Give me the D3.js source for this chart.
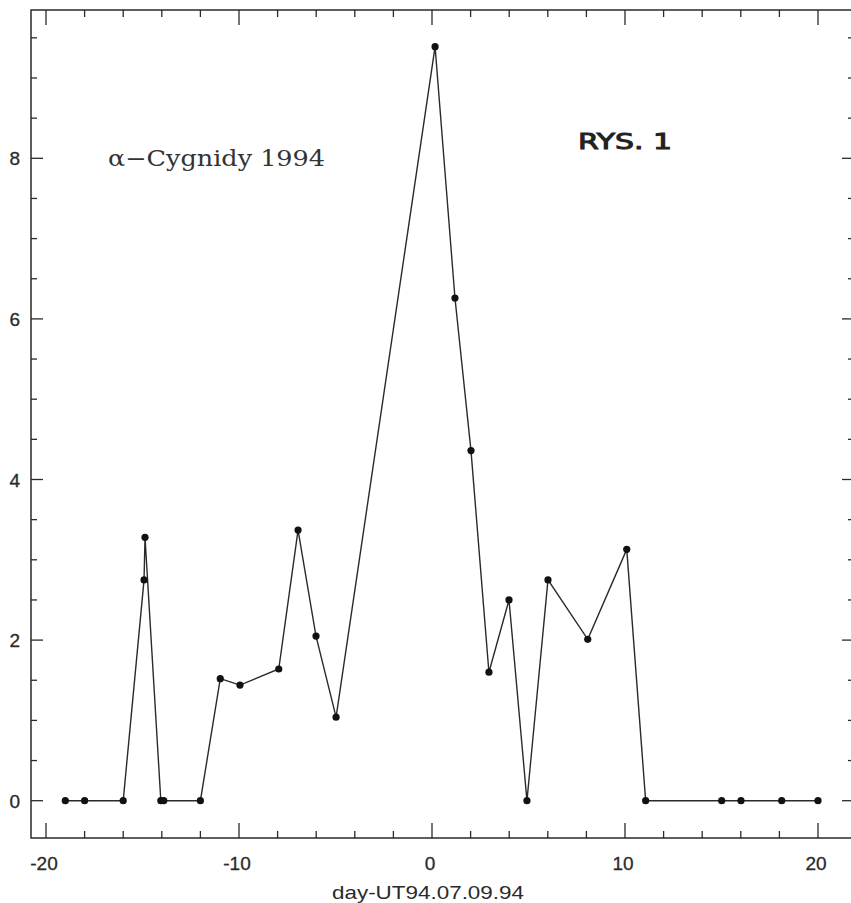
<!DOCTYPE html>
<html>
<head>
<meta charset="utf-8">
<script src="https://d3js.org/d3.v7.min.js"></script>
<style>
  body { margin: 0; background: #fff; }
</style>
</head>
<body>
<div id="chart"></div>
<script>

// alpha-Cygnids 1994 activity profile

const days = [-19, -18, -16, -14.92, -14.87, -14.05, -13.9, -12, -10.97, -9.95, -7.94, -6.94, -6.01, -4.97,
    0.16, 1.19, 2.02, 2.95, 3.99, 4.92, 6.01, 8.07, 10.09, 11.07, 15.01, 16.01, 18.12, 20];
const rates = [0, 0, 0, 2.75, 3.28, 0, 0, 0, 1.52, 1.44, 1.64, 3.37, 2.05, 1.04,
    9.39, 6.26, 4.36, 1.60, 2.50, 0, 2.75, 2.01, 3.13, 0, 0, 0, 0, 0];

const xMajor = [-20, -10, 0, 10, 20];
const yMajor = [0, 2, 4, 6, 8];

const title = "\u03b1\u2212Cygnidy 1994";
const note = "RYS. 1";
const xTitle = "day-UT94.07.09.94";

let width = 851;
let height = 903;

let x = d3.scaleLinear().domain([-20, 20]).range([46, 818]);
let y = d3.scaleLinear().domain([0, 8]).range([800.7, 158.3]);

const fLeft = 31, fRight = 854, fTop = 10, fBottom = 838;
const ink = "#2a2a2a";

let svg = d3.select("#chart")
    .append("svg")
    .attr("width", width)
    .attr("height", height)
    .style("font-family", "'Liberation Sans', Arial, sans-serif");

// frame
svg.append("rect")
    .attr("x", fLeft)
    .attr("y", fTop)
    .attr("width", fRight - fLeft)
    .attr("height", fBottom - fTop)
    .attr("fill", "none")
    .attr("stroke", ink)
    .attr("stroke-width", 1.5);

let xTicks = d3.range(-20, 21, 2);
let yTicks = d3.range(0, 9.6, 0.5);

let ticks = svg.append("g")
    .attr("stroke", ink)
    .attr("stroke-width", 1.3);

xTicks.forEach(t => {
    let len = xMajor.includes(t) ? 15 : 7;
    ticks.append("line")
        .attr("x1", x(t)).attr("x2", x(t))
        .attr("y1", fBottom).attr("y2", fBottom - len);
    ticks.append("line")
        .attr("x1", x(t)).attr("x2", x(t))
        .attr("y1", fTop).attr("y2", fTop + len);
});

yTicks.forEach(t => {
    let len = yMajor.includes(t) ? 12 : 6;
    ticks.append("line")
        .attr("x1", fLeft).attr("x2", fLeft + len)
        .attr("y1", y(t)).attr("y2", y(t));
    ticks.append("line")
        .attr("x1", fRight).attr("x2", fRight - len)
        .attr("y1", y(t)).attr("y2", y(t));
});

svg.append("g")
    .selectAll("text")
    .data(xMajor)
    .join("text")
    .attr("x", d => x(d) - 2)
    .attr("y", 870)
    .attr("text-anchor", "middle")
    .attr("font-size", 19)
    .attr("fill", ink)
    .attr("stroke", ink)
    .attr("stroke-width", 0.3)
    .text(d => d);

svg.append("g")
    .selectAll("text")
    .data(yMajor)
    .join("text")
    .attr("x", 20)
    .attr("y", d => y(d) + 7)
    .attr("text-anchor", "end")
    .attr("font-size", 19)
    .attr("fill", ink)
    .attr("stroke", ink)
    .attr("stroke-width", 0.3)
    .text(d => d);

svg.append("text")
    .attr("x", 428)
    .attr("y", 899)
    .attr("text-anchor", "middle")
    .attr("font-size", 19)
    .attr("textLength", 192)
    .attr("lengthAdjust", "spacingAndGlyphs")
    .attr("fill", ink)
    .text(xTitle);

svg.append("text")
    .attr("x", 108)
    .attr("y", 166)
    .attr("font-family", "'DejaVu Serif', serif")
    .attr("font-size", 22)
    .attr("textLength", 217)
    .attr("lengthAdjust", "spacingAndGlyphs")
    .attr("fill", "#333")
    .text(title);

svg.append("text")
    .attr("x", 578)
    .attr("y", 149)
    .attr("font-family", "'DejaVu Sans', sans-serif")
    .attr("font-size", 22)
    .attr("textLength", 94)
    .attr("lengthAdjust", "spacingAndGlyphs")
    .attr("fill", "#222")
    .attr("stroke", "#222")
    .attr("stroke-width", 1)
    .text(note);

// data
let pts = days.map((d, i) => [d, rates[i]]);

let line = d3.line()
    .x(d => x(d[0]))
    .y(d => y(d[1]));

svg.append("path")
    .datum(pts)
    .attr("d", line)
    .attr("fill", "none")
    .attr("stroke", ink)
    .attr("stroke-width", 1.4);

svg.append("g")
    .selectAll("circle")
    .data(pts)
    .join("circle")
    .attr("cx", d => x(d[0]))
    .attr("cy", d => y(d[1]))
    .attr("r", 3.6)
    .attr("fill", "#111");

</script>
</body>
</html>
